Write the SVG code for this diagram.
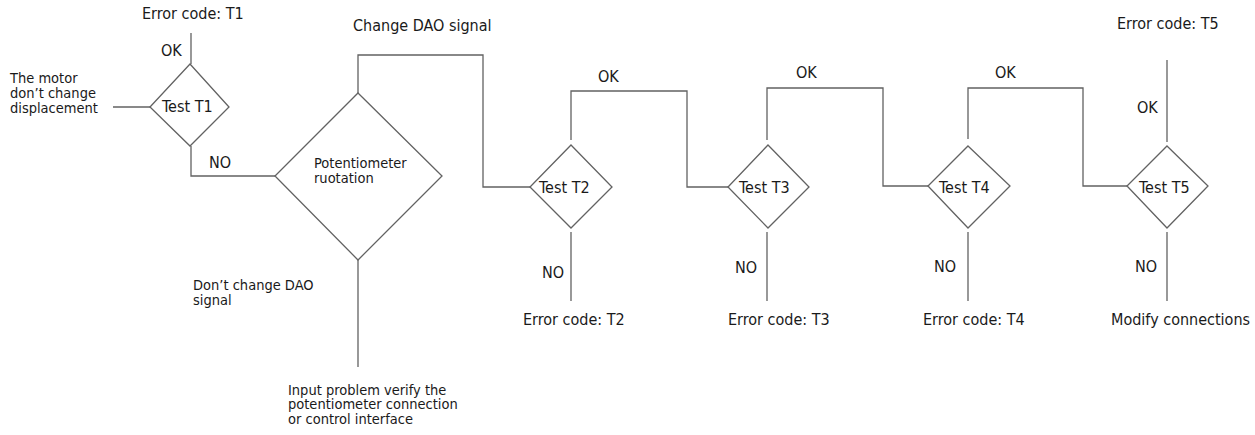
<svg xmlns="http://www.w3.org/2000/svg" width="1255" height="435" viewBox="0 0 1255 435">
  <style>
    text { font-family: "DejaVu Sans Condensed", "Liberation Sans", sans-serif; font-size: 16px; fill: #1a1a1a; }
    .multi { font-size: 14.5px; }
    .shape { fill: #ffffff; stroke: #626262; stroke-width: 1.3; }
    .wire { fill: none; stroke: #626262; stroke-width: 1.3; }
  </style>
  <rect width="1255" height="435" fill="#ffffff"/>

  <!-- connectors -->
  <g id="connectors" class="wire">
    <path d="M191 33 V64"/>
    <path d="M113 107 H150"/>
    <path d="M191 146 V176 H275"/>
    <path d="M358 93 V55 H483 V187 H530"/>
    <path d="M358 260 V367"/>
    <path d="M571 140 V91 H687 V187 H728"/>
    <path d="M571 232 V301"/>
    <path d="M767 140 V88 H883 V186 H928"/>
    <path d="M767 232 V301"/>
    <path d="M968 139 V88 H1083 V186 H1127"/>
    <path d="M968 232 V301"/>
    <path d="M1167 142 V60"/>
    <path d="M1167 232 V301"/>
  </g>

  <!-- start note -->
  <g id="start">
    <text class="multi"><tspan x="10" y="82.5">The motor</tspan><tspan x="10" y="97.5">don’t change</tspan><tspan x="10" y="112.5">displacement</tspan></text>
  </g>

  <!-- Test T1 -->
  <g id="test-t1">
    <polygon class="shape" points="190,64 229,107 190,146 150,107"/>
    <text x="162" y="112">Test T1</text>
    <text x="142" y="19">Error code: T1</text>
    <text x="161" y="56">OK</text>
    <text x="209" y="168">NO</text>
  </g>

  <!-- potentiometer rotation -->
  <g id="potentiometer">
    <polygon class="shape" points="358,93 442,176 358,260 275,176"/>
    <text class="multi"><tspan x="314" y="168">Potentiometer</tspan><tspan x="314" y="183">ruotation</tspan></text>
    <text x="353" y="31">Change DAO signal</text>
    <text class="multi"><tspan x="193" y="289.5">Don’t change DAO</tspan><tspan x="193" y="304.5">signal</tspan></text>
    <text class="multi"><tspan x="288" y="394.5">Input problem verify the</tspan><tspan x="288" y="409">potentiometer connection</tspan><tspan x="288" y="423.5">or control interface</tspan></text>
  </g>

  <!-- Test T2 -->
  <g id="test-t2">
    <polygon class="shape" points="571,145 612,187 571,228 530,187"/>
    <text x="539" y="193">Test T2</text>
    <text x="598" y="82">OK</text>
    <text x="542" y="278">NO</text>
    <text x="523" y="325">Error code: T2</text>
  </g>

  <!-- Test T3 -->
  <g id="test-t3">
    <polygon class="shape" points="768,145 809,187 768,228 728,187"/>
    <text x="739" y="193">Test T3</text>
    <text x="796" y="78">OK</text>
    <text x="735" y="273">NO</text>
    <text x="728" y="325">Error code: T3</text>
  </g>

  <!-- Test T4 -->
  <g id="test-t4">
    <polygon class="shape" points="968,146 1010,186 968,228 928,186"/>
    <text x="939" y="193">Test T4</text>
    <text x="995" y="78">OK</text>
    <text x="934" y="272">NO</text>
    <text x="923" y="325">Error code: T4</text>
  </g>

  <!-- Test T5 -->
  <g id="test-t5">
    <polygon class="shape" points="1167,146 1208,186 1167,228 1127,186"/>
    <text x="1139" y="193">Test T5</text>
    <text x="1117" y="29">Error code: T5</text>
    <text x="1137" y="113">OK</text>
    <text x="1135" y="272">NO</text>
    <text x="1111" y="325" font-size="15.5">Modify connections</text>
  </g>
</svg>
